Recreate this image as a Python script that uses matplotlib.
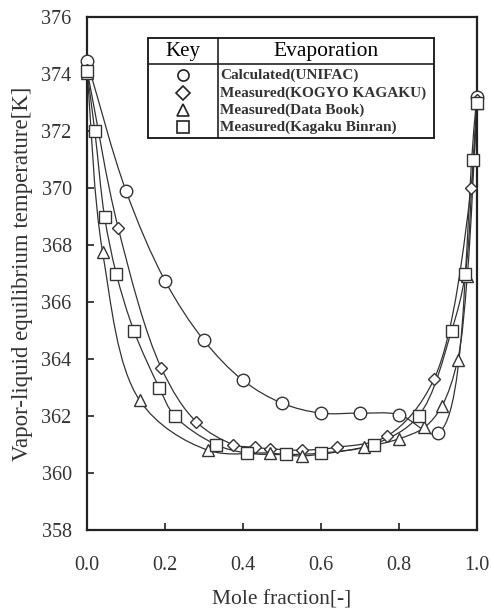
import numpy as np
import matplotlib
matplotlib.use("Agg")
import matplotlib.pyplot as plt
from matplotlib.path import Path
from matplotlib.patches import PathPatch, Rectangle
from matplotlib.lines import Line2D

# ---- data ----
x_calc = [0.0, 0.1, 0.2, 0.3, 0.4, 0.5, 0.6, 0.7, 0.8, 0.9, 1.0]
t_calc = [374.45, 369.9, 366.75, 364.65, 363.25, 362.45, 362.1, 362.1, 362.05, 361.4, 373.2]

x_kogyo = [0.0, 0.08, 0.19, 0.28, 0.375, 0.43, 0.47, 0.55, 0.64, 0.77, 0.89, 0.985, 1.0]
t_kogyo = [374.15, 368.6, 363.7, 361.8, 361.0, 360.9, 360.85, 360.8, 360.9, 361.3, 363.3, 370.0, 373.1]

x_book = [0.0, 0.04, 0.135, 0.31, 0.47, 0.55, 0.71, 0.8, 0.865, 0.91, 0.95, 0.975, 1.0]
t_book = [374.05, 367.75, 362.55, 360.8, 360.7, 360.6, 360.9, 361.2, 361.6, 362.35, 363.95, 366.9, 373.0]

x_binran = [0.0, 0.02, 0.045, 0.075, 0.12, 0.185, 0.225, 0.33, 0.41, 0.51, 0.6, 0.735, 0.85,
            0.935, 0.97, 0.99, 1.0]
t_binran = [374.1, 372.0, 369.0, 367.0, 365.0, 363.0, 362.0, 361.0, 360.7, 360.65, 360.7, 361.0,
            362.0, 365.0, 367.0, 371.0, 373.0]

labels = ['Calculated(UNIFAC)', 'Measured(KOGYO KAGAKU)', 'Measured(Data Book)',
          'Measured(Kagaku Binran)']
markers = ['o', 'D', '^', 's']

x_ticks = [0.0, 0.2, 0.4, 0.6, 0.8, 1.0]
y_ticks = [358, 360, 362, 364, 366, 368, 370, 372, 374, 376]

plt.rcParams['font.family'] = ['Liberation Serif', 'DejaVu Serif']


def smooth_path( xs, ys, xr, yr ):
    # centripetal catmull-rom through the points, as bezier segments
    p = np.column_stack( [ ( np.asarray( xs ) - xr[ 0 ] ) / ( xr[ 1 ] - xr[ 0 ] ),
                           ( np.asarray( ys ) - yr[ 0 ] ) / ( yr[ 1 ] - yr[ 0 ] ) * 1.3 ] )
    p = np.vstack( [ 2 * p[ 0 ] - p[ 1 ], p, 2 * p[ -1 ] - p[ -2 ] ] )
    verts = [ p[ 1 ] ]
    codes = [ Path.MOVETO ]
    for i in range( 1, len( p ) - 2 ):
        p0, p1, p2, p3 = p[ i - 1 ], p[ i ], p[ i + 1 ], p[ i + 2 ]
        d0 = max( np.linalg.norm( p1 - p0 ) ** 0.5, 1e-6 )
        d1 = max( np.linalg.norm( p2 - p1 ) ** 0.5, 1e-6 )
        d2 = max( np.linalg.norm( p3 - p2 ) ** 0.5, 1e-6 )
        m1 = ( ( p1 - p0 ) / d0 - ( p2 - p0 ) / ( d0 + d1 ) + ( p2 - p1 ) / d1 ) * d1
        m2 = ( ( p2 - p1 ) / d1 - ( p3 - p1 ) / ( d1 + d2 ) + ( p3 - p2 ) / d2 ) * d1
        verts += [ p1 + m1 / 3, p2 - m2 / 3, p2 ]
        codes += [ Path.CURVE4 ] * 3
    v = np.array( verts )
    v[ :, 0 ] = v[ :, 0 ] * ( xr[ 1 ] - xr[ 0 ] ) + xr[ 0 ]
    v[ :, 1 ] = v[ :, 1 ] / 1.3 * ( yr[ 1 ] - yr[ 0 ] ) + yr[ 0 ]
    return Path( v, codes )


fig = plt.figure( figsize = ( 4.91, 6.11 ), dpi = 100 )
ax = fig.add_axes( [ 87 / 491, 1 - 530 / 611, 390 / 491, 513 / 611 ] )
xr = ( 0.0, 1.0 )
yr = ( 358, 376 )

series = [ ( x_calc, t_calc ), ( x_kogyo, t_kogyo ), ( x_book, t_book ), ( x_binran, t_binran ) ]
msizes = [ 9, 6.5, 8.5, 8.5 ]
for ( xs, ys ), mk, ms in zip( series, markers, msizes ):
    ax.add_patch( PathPatch( smooth_path( xs, ys, xr, yr ), facecolor = 'none',
                             edgecolor = '#333333', lw = 0.9, zorder = 2 ) )
    ax.plot( xs, ys, ls = 'none', marker = mk, ms = ms, mfc = 'white', mec = '#333333',
             mew = 1.0, zorder = 3, clip_on = False )

ax.set_xlim( *xr )
ax.set_ylim( *yr )
ax.set_xticks( x_ticks )
ax.set_xticklabels( [ '%.1f' % v for v in x_ticks ] )
ax.set_yticks( y_ticks )
ax.tick_params( direction = 'in', length = 5, width = 1.3, labelsize = 14.5, colors = '#333333' )
ax.tick_params( axis = 'x', pad = 19 )
ax.tick_params( axis = 'y', pad = 11 )
for s in ax.spines.values( ):
    s.set_linewidth( 1.6 )
    s.set_color( '#222222' )
ax.set_xlabel( 'Mole fraction[-]', fontsize = 15.5, color = '#333333', labelpad = 11 )
ax.set_ylabel( 'Vapor-liquid equilibrium temperature[K]', fontsize = 16.5, color = '#333333',
               labelpad = 6 )

# key table
bx0, bx1, by0, by1 = 0.156, 0.890, 0.764, 0.959
ax.add_patch( Rectangle( ( bx0, by0 ), bx1 - bx0, by1 - by0, transform = ax.transAxes,
                         facecolor = 'white', edgecolor = '#222222', lw = 1.4, zorder = 5 ) )
ax.add_line( Line2D( [ bx0, bx1 ], [ 0.908, 0.908 ], transform = ax.transAxes, color = '#222222',
                     lw = 1.2, zorder = 6 ) )
ax.add_line( Line2D( [ 0.336, 0.336 ], [ by0, by1 ], transform = ax.transAxes, color = '#222222',
                     lw = 1.2, zorder = 6 ) )
ax.text( 0.246, 0.932, 'Key', transform = ax.transAxes, ha = 'center', va = 'center',
         fontsize = 15, zorder = 7 )
ax.text( 0.613, 0.932, 'Evaporation', transform = ax.transAxes, ha = 'center', va = 'center',
         fontsize = 15.5, zorder = 7 )
rows = [ 0.887, 0.852, 0.819, 0.786 ]
for ry, lab, mk in zip( rows, labels, markers ):
    ax.add_line( Line2D( [ 0.246 ], [ ry ], transform = ax.transAxes, ls = 'none', marker = mk,
                         ms = 8 if mk != 'D' else 7, mfc = 'white', mec = '#222222', mew = 1.2,
                         zorder = 7 ) )
    ax.text( 0.341, ry, lab, transform = ax.transAxes, ha = 'left', va = 'center',
             fontsize = 11, fontweight = 'bold', color = '#333333', zorder = 7 )

fig.savefig( 'out.png', dpi = 100 )
